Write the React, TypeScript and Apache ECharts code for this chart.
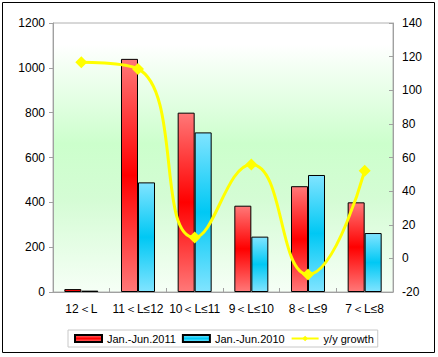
import React, { useEffect, useRef } from "react";
import * as echarts from "echarts";

const categories = ["12＜L", "11＜L≤12", "10＜L≤11", "9＜L≤10", "8＜L≤9", "7＜L≤8"];
const sales2011 = [13, 1040, 800, 385, 472, 400];
const sales2010 = [6, 489, 712, 247, 522, 263];
const growth = [116.7, 112.7, 12.4, 55.9, -9.6, 52.1];

export default function App() {
  const ref = useRef<HTMLDivElement>(null);
  useEffect(() => {
    if (!ref.current) return;
    const chart = echarts.init(ref.current, null, { renderer: "svg" });
    const font = "Arial, 'Liberation Sans', sans-serif";
    const redGrad = new echarts.graphic.LinearGradient(0, 0, 0, 1, [
      { offset: 0, color: "#ff7878" },
      { offset: 0.5, color: "#ff0000" },
      { offset: 1, color: "#ff7878" },
    ]);
    const blueGrad = new echarts.graphic.LinearGradient(0, 0, 0, 1, [
      { offset: 0, color: "#80e4ff" },
      { offset: 0.5, color: "#00c8f4" },
      { offset: 1, color: "#80e4ff" },
    ]);
    chart.setOption({
      animation: false,
      backgroundColor: "#ffffff",
      textStyle: { fontFamily: font },
      graphic: [
        {
          type: "rect",
          shape: { x: 2.5, y: 2.5, width: 432, height: 350 },
          style: { fill: "none", stroke: "#000", lineWidth: 1 },
          silent: true,
          z: 100,
        },
      ],
      grid: {
        left: 53,
        right: 45,
        top: 23,
        bottom: 65,
        show: true,
        borderColor: "#b0b0b0",
        borderWidth: 1,
        backgroundColor: new echarts.graphic.LinearGradient(0, 0, 0, 1, [
          { offset: 0, color: "#ffffff" },
          { offset: 0.08, color: "#ffffff" },
          { offset: 0.45, color: "#ccffcc" },
          { offset: 0.65, color: "#d4fcd4" },
          { offset: 1, color: "#f6fff6" },
        ]),
      },
      legend: {
        left: 68,
        top: 330,
        orient: "horizontal",
        padding: [3, 4, 3, 6],
        itemGap: 6,
        itemWidth: 27,
        itemHeight: 7,
        borderColor: "#c8c8c8",
        borderWidth: 1,
        backgroundColor: "#ffffff",
        textStyle: { fontSize: 11, color: "#000", fontFamily: font },
        data: [
          { name: "Jan.-Jun.2011", icon: "rect" },
          { name: "Jan.-Jun.2010", icon: "rect" },
          { name: "y/y growth" },
        ],
      },
      xAxis: {
        type: "category",
        data: categories,
        axisLine: { lineStyle: { color: "#a0a0a0" } },
        axisTick: { show: true, length: 4, inside: true, lineStyle: { color: "#a0a0a0" } },
        axisLabel: { color: "#000", fontSize: 12, margin: 11, interval: 0, fontFamily: font },
      },
      yAxis: [
        {
          type: "value",
          min: 0,
          max: 1200,
          interval: 200,
          axisLine: { show: true, lineStyle: { color: "#a0a0a0" } },
          axisTick: { show: true, length: 4, lineStyle: { color: "#a0a0a0" } },
          axisLabel: {
            color: "#000",
            fontSize: 12,
            margin: 8,
            fontFamily: font,
            formatter: (v: number) => String(v),
          },
          splitLine: { show: false },
        },
        {
          type: "value",
          min: -20,
          max: 140,
          interval: 20,
          position: "right",
          axisLine: { show: true, lineStyle: { color: "#a0a0a0" } },
          axisTick: { show: true, inside: true, length: 4, lineStyle: { color: "#a0a0a0" } },
          axisLabel: {
            color: "#000",
            fontSize: 12,
            margin: 9,
            fontFamily: font,
            formatter: (v: number) => String(v),
          },
          splitLine: { show: false },
        },
      ],
      series: [
        {
          name: "Jan.-Jun.2011",
          type: "bar",
          data: sales2011,
          barWidth: 17,
          barGap: "0%",
          itemStyle: { color: redGrad, borderColor: "#000", borderWidth: 1 },
        },
        {
          name: "Jan.-Jun.2010",
          type: "bar",
          data: sales2010,
          barWidth: 17,
          barGap: "0%",
          itemStyle: { color: blueGrad, borderColor: "#000", borderWidth: 1 },
        },
        {
          name: "y/y growth",
          type: "line",
          yAxisIndex: 1,
          data: growth,
          smooth: 0.5,
          symbol: "diamond",
          symbolSize: 12,
          lineStyle: { color: "#ffff00", width: 3 },
          itemStyle: { color: "#ffff00" },
          z: 5,
        },
      ],
    });
    return () => chart.dispose();
  }, []);
  return (
    <div
      ref={ref}
      style={{ position: "fixed", left: 0, top: 0, width: 438, height: 357 }}
    />
  );
}
